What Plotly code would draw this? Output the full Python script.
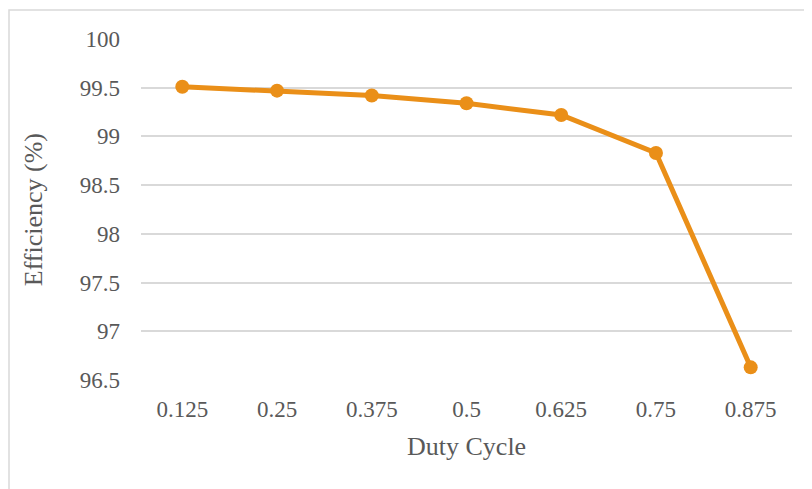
import plotly.graph_objects as go

duty_cycle = ["0.125", "0.25", "0.375", "0.5", "0.625", "0.75", "0.875"]
efficiency = [99.51, 99.47, 99.42, 99.34, 99.22, 98.83, 96.63]
y_ticks = [96.5, 97, 97.5, 98, 98.5, 99, 99.5, 100]
y_tick_text = ["96.5", "97", "97.5", "98", "98.5", "99", "99.5", "100"]

# page body has an 8px default margin; compensate
OFF = 8
W, H = 812 - OFF, 489 - OFF
ml, mr, mt, mb = 141 - OFF, 20, 38.5 - OFF, 109
pw, ph = W - ml - mr, H - mt - mb

orange = "#EA8F18"
txt = "#595959"
font_family = "Liberation Serif, Times New Roman, serif"

fig = go.Figure()
fig.add_trace(go.Scatter(
    x=duty_cycle, y=efficiency, mode="lines+markers",
    line=dict(color=orange, width=5),
    marker=dict(color=orange, size=14),
    showlegend=False, cliponaxis=False,
))

def px_x(x):
    return (x - OFF - ml) / pw

def px_y(y):
    return 1 - (y - OFF - mt) / ph

fig.update_layout(
    width=W, height=H,
    margin=dict(l=ml, r=mr, t=mt, b=mb),
    paper_bgcolor="white", plot_bgcolor="white",
    font=dict(family=font_family, color=txt, size=23),
    xaxis=dict(type="category", showgrid=False, showline=False, zeroline=False,
               ticks="", ticklabelstandoff=13, tickfont=dict(size=23, color=txt)),
    yaxis=dict(range=[96.5, 100], tickvals=y_ticks, ticktext=y_tick_text,
               showgrid=True, gridcolor="#D9D9D9", gridwidth=1.5,
               zeroline=False, showline=False, ticks="", ticklabelstandoff=20,
               tickfont=dict(size=23, color=txt)),
    annotations=[
        dict(text="Duty Cycle", xref="paper", yref="paper",
             x=px_x(466), y=px_y(447), showarrow=False,
             xanchor="center", yanchor="middle", font=dict(size=26, color=txt)),
        dict(text="Efficiency (%)", xref="paper", yref="paper",
             x=px_x(33), y=px_y(210), showarrow=False, textangle=-90,
             xanchor="center", yanchor="middle", font=dict(size=26, color=txt)),
    ],
    shapes=[
        dict(type="rect", xref="paper", yref="paper",
             x0=px_x(9), x1=px_x(830),
             y0=px_y(510), y1=px_y(9.5),
             line=dict(color="#D9D9D9", width=1.5), fillcolor="rgba(0,0,0,0)", layer="below"),
    ],
)

fig.write_html("out.html")
